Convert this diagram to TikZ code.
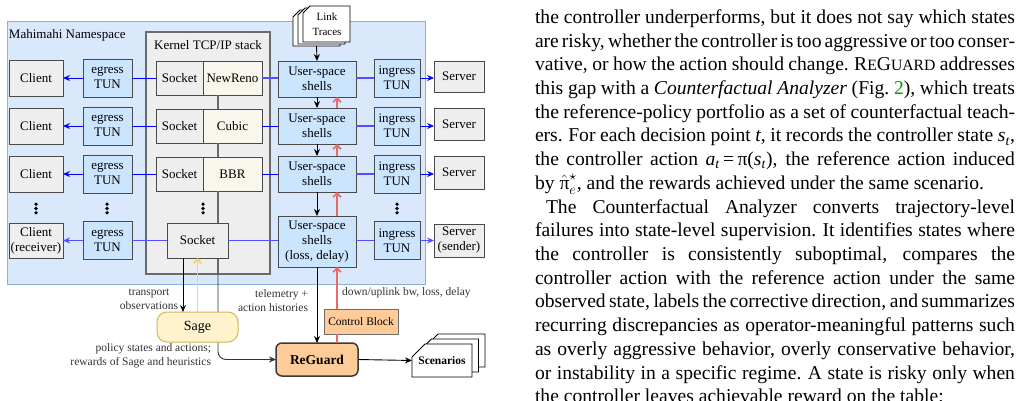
\documentclass[tikz,border=0pt]{standalone}
\usepackage{fontspec}
\setmainfont{Liberation Serif}
\usetikzlibrary{arrows.meta}
\definecolor{nsfill}{HTML}{DAE8FC}
\definecolor{nsline}{HTML}{8AAEE0}
\definecolor{kfill}{HTML}{EEEEEE}
\definecolor{kline}{HTML}{6A6A6A}
\definecolor{grayfill}{HTML}{EEEEEE}
\definecolor{edge}{HTML}{4A4A4A}
\definecolor{bluefill}{HTML}{CCE5FF}
\definecolor{ccfill}{HTML}{F9F7ED}
\definecolor{wireblue}{HTML}{0000FF}
\definecolor{wirelight}{HTML}{5050FF}
\definecolor{redline}{HTML}{EA6B66}
\definecolor{sagefill}{HTML}{FFF2CC}
\definecolor{sageline}{HTML}{D6B656}
\definecolor{orangefill}{HTML}{FFCC99}
\definecolor{rgline}{HTML}{36393D}
\definecolor{yellowline}{HTML}{FFD54F}
\definecolor{figgreen}{HTML}{00A000}
\definecolor{labeltext}{HTML}{333333}
\newcommand\docshape[5]{\filldraw[fill=white, draw=black, line width=0.9pt] ({#1+#5},#2) -- (#3,#2) -- (#3,#4) -- (#1,#4) -- (#1,{#2+#5}) -- cycle;}
\newcommand\sclike[1]{{\fontsize{15.7}{16}\selectfont #1}}
\newcommand\paraspacing{\spaceskip=0.25em plus 1fil minus 0.12em\relax\xspaceskip=0.3em plus 1fil minus 0.12em\relax}
\begin{document}
\begin{tikzpicture}[x=1pt,y=-1pt,
  every node/.style={inner sep=0pt, outer sep=0pt},
  box/.style={draw=edge, line width=0.9pt, align=center, font=\fontsize{13}{15}\selectfont},
  graybox/.style={box, fill=grayfill},
  bluebox/.style={box, fill=bluefill},
  ccbox/.style={box, fill=ccfill},
  lbl/.style={font=\fontsize{13}{15}\selectfont},
  smalllbl/.style={font=\fontsize{11.5}{14}\selectfont, text=labeltext},
  wire/.style={draw=wireblue, line width=0.9pt},
  wirel/.style={draw=wirelight, line width=1.3pt},
  barrow/.style={-{Stealth[length=7pt,width=6pt]}},
  karrow/.style={-{Stealth[length=7pt,width=6pt]}, draw=black, line width=0.9pt},
  rarrow/.style={-{Straight Barb[length=4pt,width=8pt]}, draw=redline, line width=1.6pt},
  para/.style={anchor=base west, font=\fontsize{19.6}{23.7}\selectfont\paraspacing},
]
\useasboundingbox (0,0) rectangle (1023,401);
\clip (0,0) rectangle (1023,401);
\fill[white] (0,0) rectangle (1023,401);

% containers
\node[draw=nsline, fill=nsfill, line width=1pt, minimum width=418pt, minimum height=262pt, anchor=north west] (ns) at (7,22) {};
\node[lbl, anchor=west] (nslabel) at (9,35) {Mahimahi Namespace};
\node[draw=kline, fill=kfill, line width=1.2pt, minimum width=124pt, minimum height=242pt, anchor=north west] (kernel) at (146,32) {};
\node[lbl] (klabel) at (208,45) {Kernel TCP/IP stack};

% row 1
\node[graybox, minimum width=54pt, minimum height=36pt] (cl1) at (36,78) {Client};
\node[bluebox, minimum width=49pt, minimum height=38pt] (eg1) at (107.5,78) {egress\\TUN};
\node[graybox, minimum width=47pt, minimum height=34pt] (so1) at (179.5,78) {Socket};
\node[ccbox, minimum width=59pt, minimum height=34pt] (cc1) at (232.5,78) {NewReno};
\node[bluebox, minimum width=78pt, minimum height=36pt] (sh1) at (317,79) {User-space\\shells};
\node[bluebox, minimum width=46pt, minimum height=38pt] (in1) at (397,78) {ingress\\TUN};
\node[graybox, minimum width=50pt, minimum height=31pt] (sv1) at (459,76.5) {Server};
% row 2
\node[graybox, minimum width=54pt, minimum height=36pt] (cl2) at (36,126) {Client};
\node[bluebox, minimum width=49pt, minimum height=38pt] (eg2) at (107.5,126) {egress\\TUN};
\node[graybox, minimum width=47pt, minimum height=34pt] (so2) at (179.5,126) {Socket};
\node[ccbox, minimum width=59pt, minimum height=34pt] (cc2) at (232.5,126) {Cubic};
\node[bluebox, minimum width=78pt, minimum height=36pt] (sh2) at (317,126) {User-space\\shells};
\node[bluebox, minimum width=46pt, minimum height=38pt] (in2) at (397,126) {ingress\\TUN};
\node[graybox, minimum width=50pt, minimum height=32pt] (sv2) at (459,124.5) {Server};
% row 3
\node[graybox, minimum width=54pt, minimum height=36pt] (cl3) at (36,174) {Client};
\node[bluebox, minimum width=49pt, minimum height=38pt] (eg3) at (107.5,174) {egress\\TUN};
\node[graybox, minimum width=47pt, minimum height=34pt] (so3) at (179.5,174) {Socket};
\node[ccbox, minimum width=59pt, minimum height=34pt] (cc3) at (232.5,174) {BBR};
\node[bluebox, minimum width=78pt, minimum height=36pt] (sh3) at (317,174) {User-space\\shells};
\node[bluebox, minimum width=46pt, minimum height=38pt] (in3) at (397,174) {ingress\\TUN};
\node[graybox, minimum width=50pt, minimum height=33pt] (sv3) at (459,172.5) {Server};
% row 4
\node[graybox, minimum width=54pt, minimum height=35pt] (cl4) at (36,240.5) {Client\\(receiver)};
\node[bluebox, minimum width=49pt, minimum height=38pt] (eg4) at (107.5,240.5) {egress\\TUN};
\node[bluebox, minimum width=78pt, minimum height=51pt] (sh4) at (317,241.5) {User-space\\shells\\(loss, delay)};
\node[bluebox, minimum width=46pt, minimum height=38pt] (in4) at (397,240.5) {ingress\\TUN};
\node[graybox, minimum width=50pt, minimum height=33pt] (sv4) at (459,240.5) {Server\\(sender)};

% ReGuard
\node[draw=rgline, fill=orangefill, line width=1.5pt, rounded corners=6pt, minimum width=82pt, minimum height=33pt, font=\fontsize{13.5}{15}\selectfont\bfseries] (rg) at (317,359.5) {ReGuard};

% kernel vertical connector (behind socket and Sage)
\coordinate (kx) at (218,0);
\draw[draw=kline, line width=1.2pt] (cc1.south -| kx) -- (cc2.north -| kx);
\draw[draw=kline, line width=1.2pt] (cc2.south -| kx) -- (cc3.north -| kx);
\draw[draw=kline, line width=1.2pt] (cc3.south -| kx) -- (kernel.south -| kx);
\draw[karrow, draw=black!80, rounded corners=8pt] (kernel.south -| kx) |- (rg.west);

\node[graybox, minimum width=61pt, minimum height=35pt] (so4) at (197.5,240.5) {Socket};
\node[draw=sageline, fill=sagefill, line width=1pt, rounded corners=10pt, minimum width=81pt, minimum height=30pt, font=\fontsize{14}{15}\selectfont] (sage) at (197.5,327) {Sage};

% dots
\foreach \x in {36,107,203,397} {
  \foreach \dy in {-4.3,0,4.3} { \fill (\x,{208.5+\dy}) circle (1.8); }
}

% blue wires
\draw[wire, barrow] (eg1.west) -- (cl1.east);
\draw[wire] (so1.west) -- (eg1.east);
\draw[wirel] (cc1.east) -- (cc1.east -| sh1.west);
\draw[wirel] (sh1.east |- in1.west) -- (in1.west);
\draw[wire, barrow] (in1.east) -- (in1.east -| sv1.west);

\draw[wire, barrow] (eg2.west) -- (cl2.east);
\draw[wire] (so2.west) -- (eg2.east);
\draw[wire] (cc2.east) -- (sh2.west);
\draw[wirel] (sh2.east) -- (in2.west);
\draw[wire, barrow] (in2.east) -- (in2.east -| sv2.west);

\draw[wire, barrow] (eg3.west) -- (cl3.east);
\draw[wire] (so3.west) -- (eg3.east);
\draw[wire] (cc3.east) -- (sh3.west);
\draw[wirel] (sh3.east) -- (in3.west);
\draw[wire, barrow] (in3.east) -- (in3.east -| sv3.west);

\draw[wirel, barrow] (eg4.west) -- (cl4.east);
\draw[wirel] (so4.west) -- (eg4.east);
\draw[wirel] (so4.east) -- (so4.east -| sh4.west);
\draw[wirel] (sh4.east |- in4.west) -- (in4.west);
\draw[wirel, barrow] (in4.east) -- (sv4.west);

% link traces
\docshape{293}{10}{340}{46}{7}
\docshape{298}{8}{345}{44}{7}
\docshape{303}{6}{350}{42}{7}
\node[minimum width=47pt, minimum height=36pt] (lt) at (316.5,28) {};
\node[align=center, font=\fontsize{11}{15.5}\selectfont] (lttext) at (327,24) {Link\\Traces};
\draw[karrow] (lt.south) -- (sh1.north);

% shells chain
\draw[karrow] (sh1.south) -- (sh2.north);
\draw[karrow] (sh2.south) -- (sh3.north);
\draw[karrow] (sh3.south) -- (sh4.north);
\draw[karrow] (sh4.south) -- (rg.north);

% control block and red path
\node[draw=edge!80, fill=orangefill, line width=0.9pt, minimum width=74pt, minimum height=25pt, font=\fontsize{11.5}{13}\selectfont] (cb) at (361,321.5) {Control Block};
\coordinate (rx) at (337,0);
\draw[draw=redline, line width=1.6pt] (rg.north -| rx) -- (cb.south -| rx);
\draw[rarrow] (cb.north -| rx) -- (sh4.south -| rx);
\draw[rarrow] (sh4.north -| rx) -- (sh3.south -| rx);
\draw[rarrow] (sh3.north -| rx) -- (sh2.south -| rx);
\draw[rarrow] (sh2.north -| rx) -- (sh1.south -| rx);

% Sage connections
\coordinate (sx) at (183,0);
\draw[karrow] (so4.south -| sx) -- (sage.north -| sx);
\draw[draw=yellowline, line width=1.8pt, -{Straight Barb[length=4pt,width=8pt]}] (sage.north) -- (so4.south);

% scenarios
\docshape{425}{334}{485}{367}{13}
\docshape{418.5}{339}{478.5}{372}{13}
\docshape{412}{344}{472}{377}{13}
\node[minimum width=60pt, minimum height=33pt, font=\fontsize{11.5}{13}\selectfont\bfseries] (sc) at (442,360.5) {Scenarios};
\draw[karrow] (rg.east) -- (sc.west);

% labels
\node[smalllbl, align=center] (ltrans) at (149,299) {transport\\observations};
\node[smalllbl, align=right, anchor=east] (lpol) at (211,355.5) {policy states and actions;\\rewards of Sage and heuristics};
\node[smalllbl, align=right, anchor=east] (ltel) at (308,301) {telemetry +\\action histories};
\node[smalllbl, anchor=west] (ldown) at (342,293) {down/uplink bw, loss, delay};

% paper text
\node[para] (p1) at (535,23.5) {\makebox[480pt][s]{the controller underperforms, but it does not say which states}};
\node[para] (p2) at (535,47.2) {\makebox[480pt][s]{are risky, whether the controller is too aggressive or too conser-}};
\node[para] (p3) at (535,70.9) {\makebox[480pt][s]{vative, or how the action should change. R\sclike{E}G\sclike{UARD} addresses}};
\node[para] (p4) at (535,94.6) {\makebox[480pt][s]{this gap with a \textit{Counterfactual Analyzer} (Fig.~\textcolor{figgreen}{2}), which treats}};
\node[para] (p5) at (535,118.3) {\makebox[480pt][s]{the reference-policy portfolio as a set of counterfactual teach-}};
\node[para] (p6) at (535,142) {\makebox[480pt][s]{ers. For each decision point \textit{t}, it records the controller state \textit{s}\textsubscript{\textit{t}},}};
\node[para] (p7) at (535,165.7) {\makebox[480pt][s]{the controller action \textit{a}\textsubscript{\textit{t}}\,=\,π(\textit{s}\textsubscript{\textit{t}}), the reference action induced}};
\node[para] (p8) at (535,189.4) {by $\hat{\hbox{π}}^{\star}_{e}$, and the rewards achieved under the same scenario.};
\node[para] (p9) at (546,213.1) {\makebox[469pt][s]{The Counterfactual Analyzer converts trajectory-level}};
\node[para] (p10) at (535,236.8) {\makebox[480pt][s]{failures into state-level supervision. It identifies states where}};
\node[para] (p11) at (535,260.5) {\makebox[480pt][s]{the controller is consistently suboptimal, compares the}};
\node[para] (p12) at (535,284.2) {\makebox[480pt][s]{controller action with the reference action under the same}};
\node[para] (p13) at (535,307.9) {\makebox[480pt][s]{observed state, labels the corrective direction, and summarizes}};
\node[para] (p14) at (535,331.6) {\makebox[480pt][s]{recurring discrepancies as operator-meaningful patterns such}};
\node[para] (p15) at (535,355.3) {\makebox[480pt][s]{as overly aggressive behavior, overly conservative behavior,}};
\node[para] (p16) at (535,379) {\makebox[480pt][s]{or instability in a specific regime. A state is risky only when}};
\node[para] (p17) at (535,402.7) {the controller leaves achievable reward on the table;};
\end{tikzpicture}
\end{document}
